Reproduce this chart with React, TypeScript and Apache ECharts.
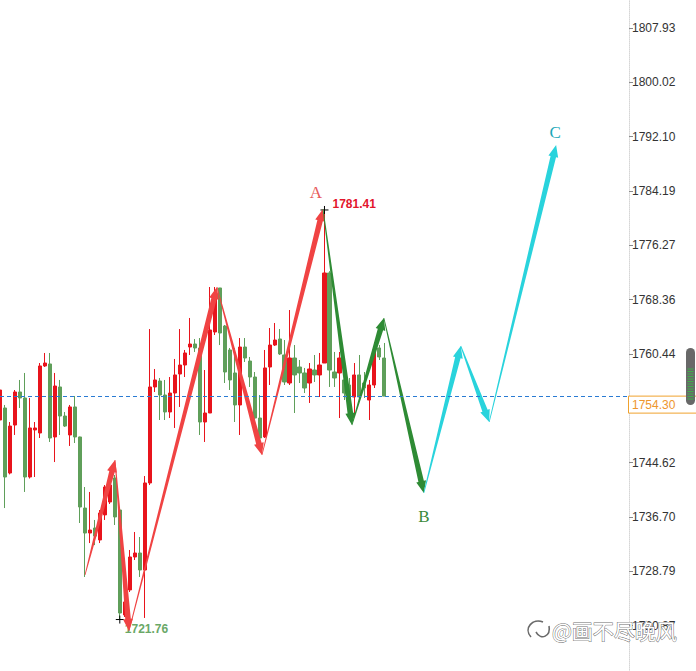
import React, { useEffect, useRef } from 'react';
import * as echarts from 'echarts';

// ---- candle data (index = slot on the x axis) ----
const candleOpen = [
  1750.82, 1752.57, 1743.10, 1750.09, 1754.90, 1754.03, 1742.52, 1749.37, 1748.93, 1758.69,
  1758.98, 1748.35, 1755.63, 1751.40, 1748.64, 1752.72, 1748.35, 1738.00, 1734.36, 1735.09,
  1733.35, 1737.00, 1738.88, 1742.37, 1737.71, 1722.42, 1726.07, 1730.87, 1731.45, 1728.98,
  1741.65, 1755.63, 1756.50, 1754.46, 1751.99, 1754.75, 1757.52, 1758.83, 1761.45, 1761.89,
  1761.31, 1750.53, 1751.84, 1763.64, 1770.05, 1764.51, 1761.02, 1757.67, 1753.01, 1761.45,
  1759.41, 1757.08, 1751.11, 1748.35, 1758.54, 1761.74, 1762.62, 1760.29, 1756.21, 1759.85,
  1758.54, 1757.67, 1756.21, 1758.10, 1757.38, 1759.12, 1772.23, 1757.81, 1757.67, 1756.65,
  1755.92, 1754.17, 1757.38, 1756.21, 1753.73, 1755.92, 1761.31, 1759.85,
];
const candleClose = [
  1755.19, 1742.52, 1749.94, 1754.90, 1754.03, 1742.52, 1749.66, 1749.66, 1758.69, 1759.12,
  1748.20, 1755.77, 1751.40, 1749.94, 1752.72, 1748.35, 1738.15, 1734.36, 1734.80, 1733.92,
  1737.28, 1741.06, 1741.35, 1736.70, 1722.71, 1724.32, 1730.87, 1731.45, 1728.98, 1741.65,
  1755.63, 1756.65, 1754.46, 1751.99, 1754.75, 1757.38, 1758.83, 1760.58, 1761.89, 1761.31,
  1750.53, 1751.84, 1763.93, 1769.03, 1763.49, 1757.81, 1756.65, 1753.01, 1761.45, 1759.85,
  1757.08, 1751.11, 1748.20, 1758.40, 1761.74, 1762.47, 1760.44, 1756.36, 1759.85, 1757.38,
  1757.67, 1755.48, 1758.25, 1757.38, 1758.83, 1772.23, 1758.10, 1756.94, 1759.85, 1754.75,
  1752.72, 1757.38, 1754.17, 1755.48, 1755.92, 1761.02, 1760.00, 1754.30,
];
const candleLow = [
  1746.02, 1738.00, 1742.90, 1748.64, 1752.57, 1740.34, 1742.30, 1742.52, 1748.20, 1758.54,
  1747.62, 1744.70, 1748.64, 1749.80, 1747.04, 1747.47, 1735.82, 1727.96, 1732.90, 1732.60,
  1732.90, 1736.26, 1738.59, 1735.53, 1721.76, 1722.13, 1725.77, 1730.43, 1727.96, 1721.99,
  1741.35, 1754.90, 1750.82, 1750.82, 1751.11, 1749.66, 1752.72, 1757.08, 1760.29, 1760.73,
  1748.64, 1747.62, 1751.84, 1763.20, 1761.74, 1756.21, 1755.19, 1750.53, 1748.64, 1759.27,
  1755.63, 1750.53, 1747.91, 1748.20, 1755.92, 1761.60, 1760.29, 1755.92, 1755.92, 1751.84,
  1756.21, 1754.75, 1753.30, 1756.36, 1754.17, 1759.12, 1755.63, 1755.63, 1751.11, 1753.73,
  1751.99, 1751.26, 1753.73, 1754.03, 1750.82, 1755.48, 1759.56, 1754.30,
];
const candleHigh = [
  1755.48, 1753.01, 1750.53, 1755.19, 1756.65, 1757.67, 1754.03, 1750.53, 1759.12, 1760.58,
  1760.58, 1757.67, 1756.65, 1751.99, 1753.01, 1754.32, 1748.40, 1741.06, 1740.34, 1736.26,
  1737.71, 1741.35, 1742.08, 1742.81, 1737.71, 1725.04, 1731.89, 1734.51, 1733.78, 1742.66,
  1764.07, 1758.25, 1756.94, 1756.65, 1757.08, 1759.71, 1764.07, 1761.02, 1765.68, 1762.62,
  1762.76, 1758.10, 1770.19, 1770.19, 1770.05, 1764.66, 1761.31, 1761.31, 1762.76, 1762.76,
  1760.00, 1757.81, 1754.46, 1761.02, 1764.22, 1764.95, 1764.07, 1762.47, 1766.84, 1761.74,
  1759.56, 1758.40, 1759.12, 1760.29, 1760.58, 1781.41, 1772.50, 1760.73, 1760.73, 1758.54,
  1756.94, 1759.12, 1760.29, 1757.81, 1756.65, 1762.18, 1761.74, 1762.04,
];

const slotCount = 127;
const categories = Array.from({ length: slotCount }, (_, i) => String(i));

// ---- y axis ----
const yMin = 1712.955;
const yInterval = 7.915;
const yTickCount = 13;
const yTickLabels = ['', '1720.87', '1728.79', '1736.70', '1744.62', '', '1760.44', '1768.36',
  '1776.27', '1784.19', '1792.10', '1800.02', '1807.93', ''];

const currentPrice = 1754.3;

// ---- wave pivots (x in slots, y in price) ----
const waveX = [17.03, 23.04, 25.84, 43.47, 52.48, 64.7, 70.5, 76.9, 84.9, 92.3, 98.0, 111.4];
const waveY = [1728.25, 1745.0, 1720.1, 1770.19, 1745.72, 1781.55, 1750.09, 1765.68, 1740.19,
  1761.6, 1750.53, 1790.87];
const waveSegColor = [0, 0, 0, 0, 0, 1, 1, 1, 2, 2, 2];
const waveLabels = ['A', 'B', 'C'];
const waveLabelPivot = [5, 8, 11];

const extremeIdx = [65, 24];
const extremeVal = [1781.41, 1721.76];
const extremeKind = ['high', 'low'];

// ---- styles ----
const UP = '#e8141c';
const DOWN = '#5f9f5a';
const WAVE_COLORS = ['#f04343', '#2e8b34', '#29d3dc'];
const LABEL_COLORS = ['#e75b5b', '#3a8a3a', '#1ca7b8'];
const LABEL_OFFSETS = [[-7, -17], [0, 24], [-1, -13]];
const OFFSET = 27; // chart div is shifted up by this many px

function arrowPoints(x1: number, y1: number, x2: number, y2: number) {
  const dx = x2 - x1, dy = y2 - y1;
  const len = Math.hypot(dx, dy) || 1;
  const ux = dx / len, uy = dy / len;
  const nx = -uy, ny = ux;
  const headL = 12, headW = 5, w0 = 0.4, w1 = 2.8;
  const bx = x2 - ux * headL, by = y2 - uy * headL;
  return [
    [x1 + nx * w0, y1 + ny * w0],
    [bx + nx * w1, by + ny * w1],
    [bx + nx * headW, by + ny * headW],
    [x2, y2],
    [bx - nx * headW, by - ny * headW],
    [bx - nx * w1, by - ny * w1],
    [x1 - nx * w0, y1 - ny * w0],
  ];
}

export default function App() {
  const ref = useRef<HTMLDivElement>(null);
  useEffect(() => {
    if (!ref.current) return;
    const chart = echarts.init(ref.current, null, { renderer: 'svg' });
    const candleData = candleOpen.map((o, i) => [o, candleClose[i], candleLow[i], candleHigh[i]]);
    const segData = waveSegColor.map((c, i) => [waveX[i], waveY[i], waveX[i + 1], waveY[i + 1], c]);
    const labelData = waveLabels.map((_, i) => [waveX[waveLabelPivot[i]], waveY[waveLabelPivot[i]], i]);
    const extremeData = extremeIdx.map((x, i) => [x, extremeVal[i], i]);

    const stripes: any[] = [];
    for (let y = 369; y <= 401; y += 2.5) {
      stripes.push({
        type: 'line', shape: { x1: 687.5, y1: y + OFFSET, x2: 693.5, y2: y + OFFSET },
        style: { stroke: '#3fb04a', lineWidth: 1 }, z: 100,
      });
    }

    const option: any = {
      animation: false,
      backgroundColor: '#ffffff',
      grid: { left: 0, right: 67, top: 0.5, bottom: 0 },
      xAxis: [
        { type: 'category', data: categories, boundaryGap: false, show: false },
        { type: 'value', min: 0, max: slotCount - 1, show: false },
      ],
      yAxis: {
        type: 'value', position: 'right', min: yMin, max: yMin + yInterval * yTickCount,
        interval: yInterval, splitLine: { show: false },
        axisLine: { show: true, onZero: false, lineStyle: { color: '#d6d6d6', type: 'dotted', width: 1 } },
        axisTick: { show: true, length: 4, lineStyle: { color: '#8a8a8a' } },
        axisLabel: {
          color: '#333', fontSize: 12, fontFamily: '"Liberation Sans", Arial, sans-serif', margin: 3,
          formatter: (v: number) => yTickLabels[Math.round((v - yMin) / yInterval)] ?? '',
        },
      },
      series: [
        {
          type: 'candlestick', xAxisIndex: 0, data: candleData, barWidth: 3.6, z: 1,
          itemStyle: { color: UP, color0: DOWN, borderColor: UP, borderColor0: DOWN, borderWidth: 1 },
          markLine: {
            silent: true, symbol: ['none', 'none'], data: [{ yAxis: currentPrice }],
            lineStyle: { color: '#2a7bd3', type: [4, 3], width: 1 }, label: { show: false },
          },
        },
        {
          type: 'custom', xAxisIndex: 1, z: 2, data: extremeData, clip: false,
          encode: { x: 0, y: 1 },
          renderItem: (params: any, api: any) => {
            const p = api.coord([api.value(0), api.value(1)]);
            const k = extremeKind[api.value(2)];
            const isHigh = k === 'high';
            return {
              type: 'group',
              children: [
                { type: 'line', shape: { x1: p[0] - 4, y1: p[1], x2: p[0] + 4, y2: p[1] }, style: { stroke: '#000', lineWidth: 1 } },
                { type: 'line', shape: { x1: p[0], y1: p[1] - 4, x2: p[0], y2: p[1] + 4 }, style: { stroke: '#000', lineWidth: 1 } },
                {
                  type: 'text', x: p[0] + (isHigh ? 8 : 5), y: p[1] + (isHigh ? -6 : 9),
                  style: {
                    text: api.value(1).toFixed(2), fill: isHigh ? '#e3162c' : '#6aa867',
                    font: 'bold 12px "Liberation Sans", Arial, sans-serif', verticalAlign: 'middle', align: 'left',
                  },
                },
              ],
            };
          },
        },
        {
          type: 'custom', xAxisIndex: 1, z: 3, data: segData, clip: false,
          encode: { x: [0, 2], y: [1, 3] },
          renderItem: (params: any, api: any) => {
            const a = api.coord([api.value(0), api.value(1)]);
            const b = api.coord([api.value(2), api.value(3)]);
            return {
              type: 'polygon', shape: { points: arrowPoints(a[0], a[1], b[0], b[1]) },
              style: { fill: WAVE_COLORS[api.value(4)] },
            };
          },
        },
        {
          type: 'custom', xAxisIndex: 1, z: 4, data: labelData, clip: false,
          encode: { x: 0, y: 1 },
          renderItem: (params: any, api: any) => {
            const p = api.coord([api.value(0), api.value(1)]);
            const i = api.value(2);
            return {
              type: 'text', x: p[0] + LABEL_OFFSETS[i][0], y: p[1] + LABEL_OFFSETS[i][1],
              style: {
                text: waveLabels[i], fill: LABEL_COLORS[i], font: '17px "Liberation Serif", serif',
                align: 'center', verticalAlign: 'middle',
              },
            };
          },
        },
        {
          type: 'custom', xAxisIndex: 1, z: 5, data: [[0, currentPrice]], clip: false,
          encode: { x: 0, y: 1 },
          renderItem: (params: any, api: any) => {
            const cs = params.coordSys;
            const y = api.coord([0, api.value(1)])[1];
            const x = cs.x + cs.width;
            return {
              type: 'group',
              children: [
                { type: 'rect', shape: { x: x - 0.5, y: y, width: 70, height: 17 }, style: { fill: '#fff', stroke: '#f0a22e', lineWidth: 1 } },
                {
                  type: 'text', x: x + 3, y: y + 9,
                  style: { text: api.value(1).toFixed(2), fill: '#ee962c', font: '12px "Liberation Sans", Arial, sans-serif', verticalAlign: 'middle' },
                },
              ],
            };
          },
        },
      ],
      graphic: [
        { type: 'rect', shape: { x: 686, y: 348 + OFFSET, width: 9, height: 57, r: 4.5 }, style: { fill: '#686868' }, z: 99 },
        ...stripes,
        {
          type: 'bezierCurve', shape: { x1: 531, y1: 637 + OFFSET, cpx1: 523, cpy1: 628 + OFFSET, cpx2: 533, cpy2: 618 + OFFSET, x2: 543, y2: 622 + OFFSET },
          style: { stroke: '#6a6a6a', lineWidth: 1.6, fill: null }, z: 100,
        },
        {
          type: 'bezierCurve', shape: { x1: 536, y1: 632 + OFFSET, cpx1: 541, cpy1: 641 + OFFSET, cpx2: 551, cpy2: 636 + OFFSET, x2: 549, y2: 626 + OFFSET },
          style: { stroke: '#6a6a6a', lineWidth: 1.6, fill: null }, z: 100,
        },
        {
          type: 'text', x: 552, y: 630 + OFFSET, z: 100,
          style: {
            text: '@画不尽晚风', font: '21px "Noto Sans CJK SC", sans-serif', fill: '#ffffff',
            stroke: '#707070', lineWidth: 1, verticalAlign: 'middle',
          },
        },
      ],
    };
    chart.setOption(option);
    return () => chart.dispose();
  }, []);

  return (
    <div style={{ position: 'fixed', left: 0, top: 0, width: 696, height: 671, overflow: 'hidden', background: '#fff' }}>
      <div ref={ref} style={{ position: 'absolute', left: 0, top: -OFFSET, width: 696, height: 671 + OFFSET + 9 }} />
    </div>
  );
}
